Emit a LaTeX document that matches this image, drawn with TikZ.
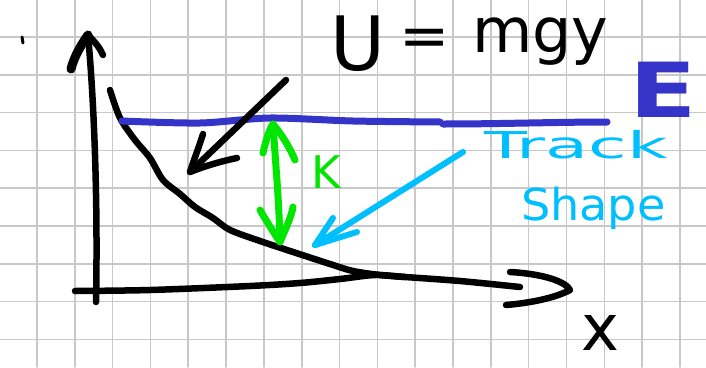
\documentclass[tikz,border=0pt]{standalone}
\usepackage{fontspec}
\setmainfont{DejaVu Sans}
\usepackage{graphicx}
\definecolor{gridgray}{HTML}{C8C8C8}
\definecolor{penblue}{HTML}{3434C8}
\definecolor{pengreen}{HTML}{00E600}
\definecolor{pencyan}{HTML}{00BFFF}
\begin{document}
\begin{tikzpicture}[x=1pt,y=-1pt,line cap=round,line join=round,
  gridline/.style={gridgray,line width=1.6pt},
  ink/.style={black,line width=6.5pt},
  blueink/.style={penblue,line width=7pt},
  greenink/.style={pengreen,line width=7pt},
  cyanink/.style={pencyan,line width=6pt},
  hand/.style={inner sep=0pt,outer sep=0pt}]
\fill[white] (0,0) rectangle (706,367);
\useasboundingbox (0,0) rectangle (706,367);
% grid paper
\foreach \k in {0,...,17} \draw[gridline] ({37+37.82*\k},0) -- ({37+37.82*\k},367);
\foreach \k in {0,...,8} \draw[gridline] (0,{37+37.8*\k}) -- (706,{37+37.8*\k});
% stray tick
\draw[ink,line width=3pt] (22,37) -- (23,43);
% y axis
\coordinate (ytip) at (88,35);
\draw[ink] (96,302) .. controls (98,200) and (94,100) .. (ytip);
\draw[ink,line width=9pt] (ytip) .. controls (81,45) and (74,57) .. (71,69);
\draw[ink] (ytip) .. controls (95,42) and (100,48) .. (103,55);
% x axis
\coordinate (xtip) at (570,290);
\draw[ink] plot[smooth] coordinates {(75,291) (150,290) (250,286) (300,283) (340,279) (375,275) (405,277) (460,281) (520,287)};
\draw[ink] (510,272) .. controls (545,274) and (566,282) .. (xtip) .. controls (555,298) and (530,303) .. (506,305);
% track curve
\draw[ink] plot[smooth] coordinates {(110,90) (120,118) (135,140) (150,158) (163,180) (180,194) (195,207) (213,218) (230,230) (260,241) (290,251) (330,264) (353,271) (380,275) (405,277)};
% energy level E
\draw[blueink] plot[smooth] coordinates {(122,121) (200,123) (270,118) (353,121) (440,122)};
\draw[blueink] (443,124) .. controls (500,124) and (560,122) .. (607,122);
\node[hand,anchor=base west,text=penblue] (E) at (629,117)
  {\scalebox{1.3}[1]{\fontsize{76}{80}\selectfont\bfseries E}};
% U = mgy
\node[hand,anchor=base] (U) at (358,70) {\fontsize{75}{80}\selectfont U};
\node[hand] (eq) at (425,43) {\fontsize{60}{64}\selectfont =};
\node[hand,anchor=base west] (mgy) at (472,52) {\fontsize{62}{66}\selectfont mgy};
% black arrow to the curve
\coordinate (btip) at (190,172);
\draw[ink] (286,80) -- (btip);
\draw[ink] (203,134) .. controls (198,150) and (193,162) .. (btip) .. controls (205,166) and (222,161) .. (237,158);
% green double arrow and K
\coordinate (gtop) at (273,124);
\coordinate (gbot) at (280,242);
\draw[greenink] (gtop) .. controls (276,170) and (279,200) .. (gbot);
\draw[greenink] (263,153) .. controls (266,140) and (269,130) .. (gtop) .. controls (282,135) and (290,148) .. (295,160);
\draw[greenink] (260,210) .. controls (267,222) and (274,233) .. (gbot) .. controls (285,230) and (291,218) .. (293,207);
\node[hand,text=pengreen] (K) at (326,172) {\fontsize{45}{48}\selectfont K};
% cyan arrow and label
\coordinate (ctip) at (315,245);
\draw[cyanink] (463,152) -- (ctip);
\draw[cyanink] (333,218) -- (ctip) -- (357,232);
\node[hand,anchor=base west,text=pencyan] (track) at (484,158)
  {\scalebox{1.9}[1]{\fontsize{37}{40}\selectfont Track}};
\node[hand,anchor=base west,text=pencyan] (shape) at (521,220)
  {\scalebox{1.05}[1]{\fontsize{44}{48}\selectfont Shape}};
% x label
\node[hand,anchor=base] (xl) at (600,350) {\fontsize{64}{68}\selectfont x};
\end{tikzpicture}
\end{document}
